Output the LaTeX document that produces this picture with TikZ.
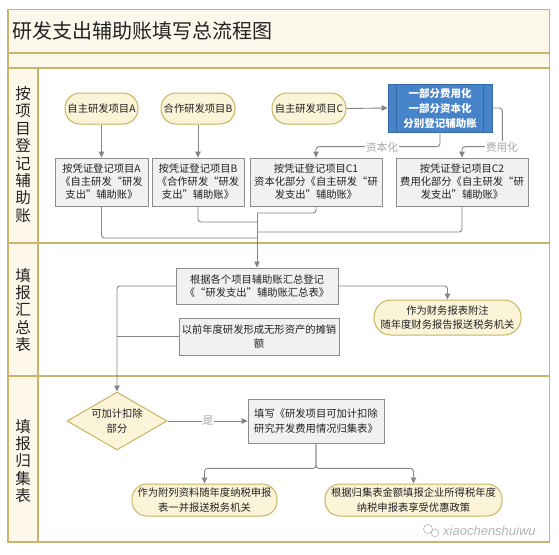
\documentclass[tikz,border=0pt]{standalone}
\usepackage{fontspec}
\setmainfont{Noto Sans CJK SC}
\newfontfamily\wmfont{Liberation Sans}
\usetikzlibrary{arrows.meta,shapes.geometric,shadows,calc}

\definecolor{framec}{HTML}{C8B46A}
\definecolor{bandc}{HTML}{FDF8EC}
\definecolor{colc}{HTML}{FDF8EA}
\definecolor{termfill}{HTML}{FBF4D9}
\definecolor{termdraw}{HTML}{C9B55F}
\definecolor{boxfill}{HTML}{F1F1F1}
\definecolor{boxdraw}{HTML}{8C8C8C}
\definecolor{bluefill}{HTML}{4683C9}
\definecolor{bluedraw}{HTML}{356AA8}
\definecolor{bluein}{HTML}{3568A3}
\definecolor{linec}{HTML}{858585}
\definecolor{lblc}{HTML}{A8A8A8}
\definecolor{txtc}{HTML}{222222}
\definecolor{wmc}{HTML}{B4B4B4}

\tikzset{
  term/.style={draw=termdraw, fill=termfill, line width=1pt, rounded corners=15pt,
    align=center, inner sep=0pt, text=txtc, font=\fontsize{10.3}{13.5}\selectfont},
  procbox/.style={draw=boxdraw, fill=boxfill, line width=0.8pt, align=center, inner sep=0pt,
    text=txtc, font=\fontsize{10.3}{13.5}\selectfont,
    drop shadow={shadow xshift=1.2pt,shadow yshift=-1.2pt,fill=black!22}},
  regbox/.style={procbox, font=\fontsize{10.3}{13}\selectfont, minimum height=48pt},
  bluebox/.style={draw=bluedraw, fill=bluefill, line width=0.8pt, align=center, inner sep=0pt,
    text=white, font=\bfseries\fontsize{10.5}{15}\selectfont, minimum width=104pt, minimum height=48pt},
  decision/.style={diamond, draw=termdraw, fill=termfill, line width=1pt, aspect=1.72,
    inner sep=0pt, minimum width=100pt, minimum height=58pt, align=center, text=txtc,
    font=\fontsize{10.3}{15}\selectfont},
  lanelbl/.style={align=center, inner sep=0pt, text=txtc, font=\fontsize{15.5}{17.4}\selectfont},
  conn/.style={draw=linec, line width=0.9pt, rounded corners=3pt, -{Triangle[length=6pt,width=5.5pt]}},
  plainline/.style={draw=linec, line width=0.9pt, rounded corners=3pt},
  lbl/.style={fill=white, inner sep=1pt, text=lblc, font=\fontsize{10.8}{12}\selectfont},
  frameline/.style={draw=framec, line width=1.1pt}
}

\begin{document}
\begin{tikzpicture}[x=1pt,y=-1pt]
\useasboundingbox (0,0) rectangle (559,554);
\fill[white] (0,0) rectangle (559,554);

% frame and bands
\fill[bandc] (8,9.5) rectangle (549.5,68);
\fill[colc] (8,68) rectangle (38,542);
\fill[white] (38,68) rectangle (549.5,542);
\draw[frameline] (8,53) -- (549.5,53);
\draw[frameline] (8,68) -- (549.5,68);
\draw[frameline] (8,243) -- (549.5,243);
\draw[frameline] (8,376) -- (549.5,376);
\draw[frameline] (38,68) -- (38,542);
\draw[frameline] (8,9.5) rectangle (549.5,542);

% title and lane labels
\node[anchor=west, inner sep=0pt, text=txtc, font=\fontsize{20}{22}\selectfont] (title) at (12,31) {研发支出辅助账填写总流程图};
\node[lanelbl] (lab1) at (23,154.5) {按\\项\\目\\登\\记\\辅\\助\\账};
\node[lanelbl] (lab2) at (23,310) {填\\报\\汇\\总\\表};
\node[lanelbl] (lab3) at (23,461) {填\\报\\归\\集\\表};

% lane 1
\node[term, minimum width=73pt, minimum height=31pt] (tA) at (101.5,108.5) {自主研发项目A};
\node[term, minimum width=74pt, minimum height=31pt] (tB) at (198,108.5) {合作研发项目B};
\node[term, minimum width=74pt, minimum height=31pt] (tC) at (309,108.5) {自主研发项目C};
\node[bluebox] (blue) at (440,108) {一部分费用化\\一部分资本化\\分别登记辅助账};
\draw[bluein, line width=0.8pt] ([xshift=9pt]blue.north west) -- ([xshift=9pt]blue.south west);
\draw[bluein, line width=0.8pt] ([xshift=-9pt]blue.north east) -- ([xshift=-9pt]blue.south east);

\node[regbox, minimum width=93pt] (bA) at (101.5,182) {按凭证登记项目A\\《自主研发“研发\\支出”辅助账》};
\node[regbox, minimum width=92pt] (bB) at (198,182) {按凭证登记项目B\\《合作研发“研发\\支出”辅助账》};
\node[regbox, minimum width=132pt] (bC1) at (316,182) {按凭证登记项目C1\\资本化部分《自主研发“研\\发支出”辅助账》};
\node[regbox, minimum width=132pt] (bC2) at (462,182) {按凭证登记项目C2\\费用化部分《自主研发“研\\发支出”辅助账》};

\draw[conn] (tA.south) -- (bA.north);
\draw[conn] (tB.south) -- (bB.north);
\draw[conn] (tC.east) -- (blue.west);
\draw[conn] (blue.south) -- ([yshift=11pt]blue.south |- bC1.north) -| (bC1.north);
\draw[conn] (blue.east) -- ++(10,0) |- ([yshift=11pt]bC2.north) -- (bC2.north);
\node[lbl] (lcap) at (382,147) {资本化};
\node[lbl] (lexp) at (502,147) {费用化};

% lane 2
\node[procbox, minimum width=162pt, minimum height=36pt] (S1) at (257,286) {根据各个项目辅助账汇总登记\\《“研发支出”辅助账汇总表》};
\node[procbox, minimum width=160pt, minimum height=37pt] (S2) at (259,336.5) {以前年度研发形成无形资产的摊销\\额};
\node[term, minimum width=147pt, minimum height=35pt, rounded corners=17pt] (T) at (447.5,317.5) {作为财务报表附注\\随年度财务报告报送税务机关};

\coordinate (jA) at (257,238);
\coordinate (jB) at (257,222);
\coordinate (jC1) at (257,213);
\coordinate (jC2) at (257,232);
\draw[plainline] (bA.south) |- (jA);
\draw[plainline] (bB.south) |- (jB);
\draw[plainline] (bC1.south) |- (jC1);
\draw[plainline] (bC2.south) |- (jC2);
\draw[conn] (jC1) -- (S1.north);
\draw[conn] (S1.east) -| (T.north);

% lane 3
\node[decision] (dia) at (117,421) {可加计扣除\\部分};
\node[procbox, minimum width=136pt, minimum height=44pt, font=\fontsize{10.3}{15}\selectfont] (W) at (316,421) {填写《研发项目可加计扣除\\研究开发费用情况归集表》};
\node[term, minimum width=145pt, minimum height=32pt, font=\fontsize{10.3}{15}\selectfont] (U1) at (204.5,500) {作为附列资料随年度纳税申报\\表一并报送税务机关};
\node[term, minimum width=177pt, minimum height=32pt, font=\fontsize{10.3}{15}\selectfont] (U2) at (413.5,500) {根据归集表金额填报企业所得税年度\\纳税申报表享受优惠政策};

\draw[conn] (S1.west) -| (dia.north);
\draw[plainline] (S2.west) -- (S2.west -| dia.north);
\draw[conn] (dia.east) -- (W.west);
\node[lbl] (lyes) at (208,421) {是};
\draw[conn] (W.south) -- ++(0,25) -| (U1.north);
\draw[conn] (W.south) -- ++(0,25) -| (U2.north);

% watermark
\draw[wmc, line width=0.6pt] (428,529) circle (4.5pt);
\draw[wmc, line width=0.6pt] (435,533) circle (3.8pt);
\node[anchor=west, inner sep=0pt, text=wmc, font=\wmfont\itshape\fontsize{13}{15}\selectfont] (wm) at (443,531) {xiaochenshuiwu};
\end{tikzpicture}
\end{document}
